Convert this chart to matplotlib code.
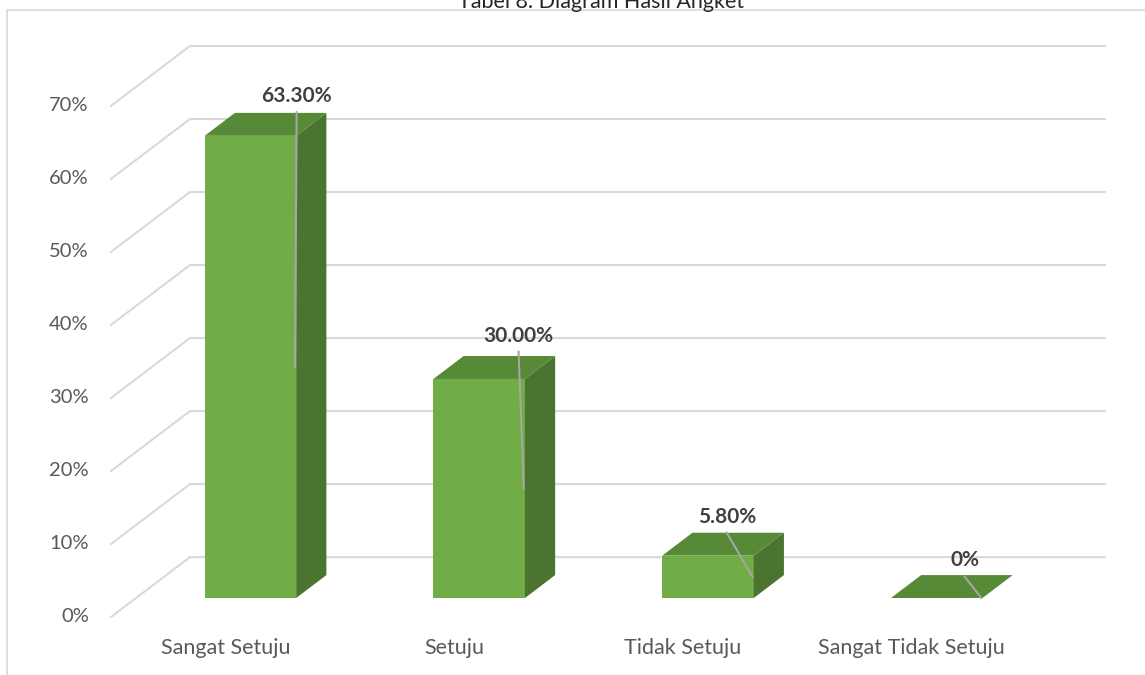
import numpy as np
import matplotlib.pyplot as plt
from matplotlib.patches import Polygon, Rectangle

# data
categories = ['Sangat Setuju', 'Setuju', 'Tidak Setuju', 'Sangat Tidak Setuju']
values = [0.633, 0.300, 0.058, 0.0]
labels = ['63.30%', '30.00%', '5.80%', '0%']
ticks = [0, 0.1, 0.2, 0.3, 0.4, 0.5, 0.6, 0.7]
tick_labels = ['0%', '10%', '20%', '30%', '40%', '50%', '60%', '70%']
title = 'Tabel 8. Diagram Hasil Angket'

# 3d look
DX, DY = 0.345, 0.082       # full depth of the floor in data units
D0, D1 = 0.317, 0.70        # bar sits between these depth fractions
W = 0.40                    # bar width
label_dx = [0.07, 0.04, -0.05, -0.01]   # where Excel left the data labels
label_dy = [0.023, 0.028, 0.022, 0.020]

front_c = '#70ad47'
top_c = '#578a36'
side_c = '#4a7430'
grid_c = '#d9d9d9'

plt.rcParams['font.family'] = ['Lato', 'DejaVu Sans']

fig = plt.figure(figsize=(11.45, 6.75), dpi=100)
ax = fig.add_axes([111 / 1145, 58 / 675, 994 / 1145, 571 / 675])
ax.set_xlim(-0.5, 3.5 + DX)
ax.set_ylim(0, 0.7 + DY)
ax.axis('off')

# chart border (cut by the screenshot on right and bottom)
fig.patches.append(Rectangle((7 / 1145, -0.1), 1.2, (665 + 0.1 * 675) / 675,
                             transform=fig.transFigure, fill=False,
                             edgecolor=grid_c, lw=1.2))
fig.text(0.525, 0.997, title, ha='center', va='center', fontsize=15.5, color='#262626')

# gridlines: side wall diagonal + back wall
for t, tl in zip(ticks, tick_labels):
    ax.plot([-0.5, -0.5 + DX, 3.5 + DX], [t, t + DY, t + DY], color=grid_c, lw=1.5,
            solid_joinstyle='miter', clip_on=False, zorder=1)
    ax.annotate(tl, (-0.5, t), xytext=(-16, 0), textcoords='offset points',
                ha='right', va='center', fontsize=14.5, color='#595959')

for i, (v, lab, cat) in enumerate(zip(values, labels, categories)):
    x0 = i - W / 2 + D0 * DX
    y0 = D0 * DY
    ddx = (D1 - D0) * DX
    ddy = (D1 - D0) * DY
    if v > 0:
        ax.add_patch(Polygon([(x0, y0), (x0 + W, y0), (x0 + W, y0 + v), (x0, y0 + v)],
                             closed=True, facecolor=front_c, edgecolor='none', zorder=3))
        ax.add_patch(Polygon([(x0 + W, y0), (x0 + W + ddx, y0 + ddy),
                              (x0 + W + ddx, y0 + ddy + v), (x0 + W, y0 + v)],
                             closed=True, facecolor=side_c, edgecolor='none', zorder=3))
    ax.add_patch(Polygon([(x0, y0 + v), (x0 + W, y0 + v), (x0 + W + ddx, y0 + ddy + v),
                          (x0 + ddx, y0 + ddy + v)],
                         closed=True, facecolor=top_c, edgecolor='none', zorder=3))
    # data label with its leader line
    lx = x0 + ddx + W / 2 + label_dx[i]
    ly = y0 + ddy + v + label_dy[i]
    ax.text(lx, ly, lab, ha='center', va='center', fontsize=15, fontweight='bold',
            color='#404040', zorder=5)
    ax.plot([lx, x0 + W - 0.005], [ly - 0.022, y0 + v / 2], color='#a6a6a6', lw=1.5,
            zorder=4)
    ax.annotate(cat, (i, 0), xytext=(0, -22), textcoords='offset points',
                ha='center', va='center', fontsize=15.5, color='#595959')

fig.savefig('out.png', dpi=100)
